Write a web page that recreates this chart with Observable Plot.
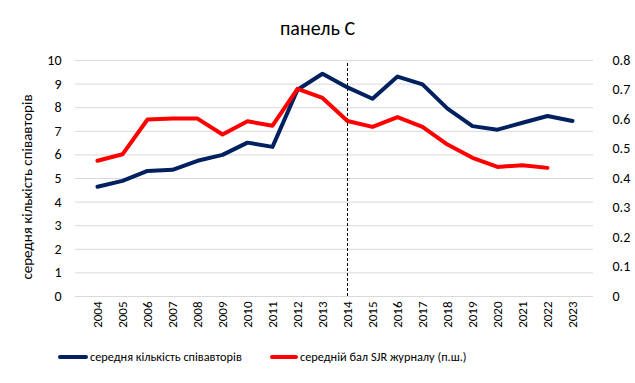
<!DOCTYPE html>
<html>
<head>
<meta charset="utf-8">
<script src="https://cdn.jsdelivr.net/npm/d3@7"></script>
<script src="https://cdn.jsdelivr.net/npm/@observablehq/plot@0.6"></script>
<style>
  body { margin: 0; background: #fff; font-family: Carlito, "Liberation Sans Narrow", Roboto, sans-serif; position: relative; }
  #title { height: 44px; box-sizing: border-box; padding-top: 15px; font-size: 20px; line-height: 26px; text-align: center; color: #000; }
  #legend { position: relative; height: 26px; font-size: 12.3px; color: #000; }
  .sw { position: absolute; top: 11px; height: 4px; border-radius: 2px; }
  .lt { position: absolute; top: 0; line-height: 26px; white-space: nowrap; }
  #ytitle { position: absolute; left: 27px; top: 187px; transform: translate(-50%, -50%) rotate(-90deg); white-space: nowrap; font-size: 15px; line-height: 18px; color: #000; }
</style>
</head>
<body>
<div id="title">панель С</div>
<div id="chart"></div>
<div id="legend">
  <span class="sw" style="left:58px;width:30px;background:#002060"></span>
  <span class="lt" id="l1" style="left:90px"></span>
  <span class="sw" style="left:270px;width:28px;background:#ff0000"></span>
  <span class="lt" id="l2" style="left:300px"></span>
</div>
<div id="ytitle"></div>
<script>
const years = ["2004","2005","2006","2007","2008","2009","2010","2011","2012","2013","2014","2015","2016","2017","2018","2019","2020","2021","2022","2023"];
const coauthors = [4.65,4.9,5.32,5.37,5.75,6.0,6.52,6.34,8.76,9.44,8.86,8.38,9.32,8.99,7.96,7.22,7.07,7.36,7.65,7.44];
const sjr = [0.46,0.482,0.6,0.603,0.603,0.549,0.594,0.579,0.704,0.673,0.595,0.575,0.608,0.575,0.515,0.47,0.439,0.445,0.436];
const leftTicks = [0,1,2,3,4,5,6,7,8,9,10];
const rightTicks = [0,0.1,0.2,0.3,0.4,0.5,0.6,0.7,0.8];
const seriesNames = ["середня кількість співавторів", "середній бал SJR журналу (п.ш.)"];
const yTitle = "середня кількість співавторів";
const markerYear = "2014";
const markerTop = 9.87;
const leftMax = 10, rightMax = 0.8;

document.getElementById("l1").textContent = seriesNames[0];
document.getElementById("l2").textContent = seriesNames[1];
document.getElementById("ytitle").textContent = yTitle;

const ratio = leftMax / rightMax;
const blue = years.map((y, i) => ({year: y, v: coauthors[i]}));
const red = sjr.map((v, i) => ({year: years[i], v: v * ratio}));

const font = "Carlito, 'Liberation Sans Narrow', Roboto, sans-serif";
const chart = Plot.plot({
  width: 635,
  height: 300,
  marginLeft: 75,
  marginRight: 42,
  marginTop: 16,
  marginBottom: 48,
  style: {fontFamily: font, fontSize: "14px", color: "#000", background: "#fff"},
  x: {type: "point", domain: years, padding: 0.5},
  y: {domain: [0, leftMax]},
  marks: [
    Plot.gridY(leftTicks, {stroke: "#d9d9d9", strokeOpacity: 1, strokeWidth: 1}),
    Plot.ruleY([0], {stroke: "#d9d9d9"}),
    Plot.axisY(leftTicks, {anchor: "left", tickSize: 0, tickPadding: 14, fontSize: 14, label: null}),
    Plot.axisY(rightTicks.map(t => t * ratio), {anchor: "right", tickSize: 0, tickPadding: 19, fontSize: 14,
      tickFormat: d => String(+(d / ratio).toFixed(1)), label: null}),
    Plot.axisX(years, {tickSize: 0, tickRotate: -90, tickPadding: 5, fontSize: 13, label: null}),
    Plot.ruleX([markerYear], {y1: 0, y2: markerTop, stroke: "#000", strokeDasharray: "3,2", strokeWidth: 1}),
    Plot.line(blue, {x: "year", y: "v", stroke: "#002060", strokeWidth: 4, strokeLinejoin: "round", strokeLinecap: "round"}),
    Plot.line(red, {x: "year", y: "v", stroke: "#ff0000", strokeWidth: 4, strokeLinejoin: "round", strokeLinecap: "round"})
  ]
});
document.getElementById("chart").appendChild(chart);
</script>
</body>
</html>
